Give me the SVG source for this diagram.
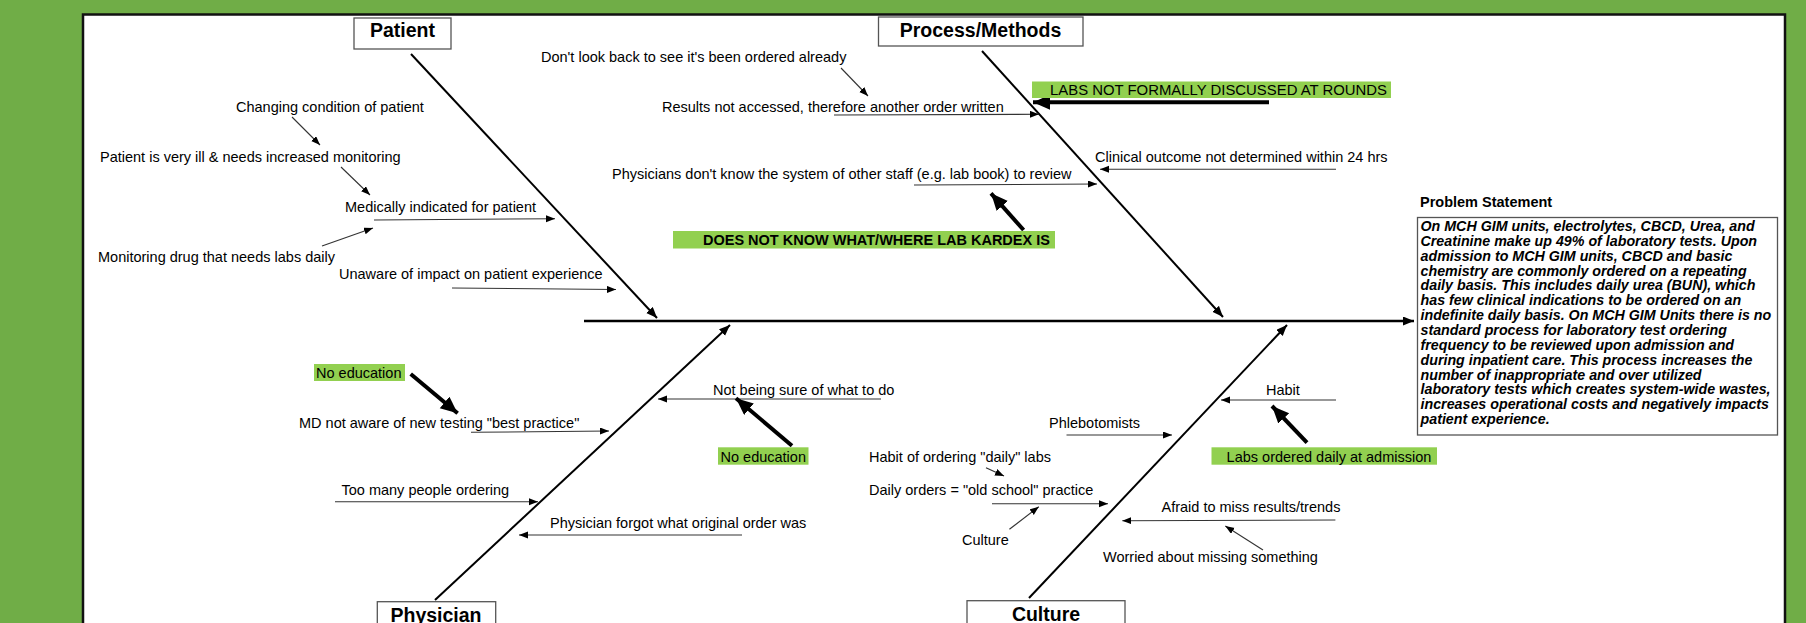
<svg xmlns="http://www.w3.org/2000/svg" width="1806" height="623" viewBox="0 0 1806 623">
<style>
.lbl{font-family:"Liberation Sans",Arial,sans-serif;font-size:14.5px;fill:#000}
.hl{fill:#92D050}
.cat{font-family:"Liberation Sans",Arial,sans-serif;font-size:19.5px;font-weight:bold;fill:#000;text-anchor:middle}
.catbox{fill:#fff;stroke:#555;stroke-width:1.3}
.bold{font-weight:bold}
.ps{font-family:"Liberation Sans",Arial,sans-serif;font-size:14.25px;font-weight:bold;font-style:italic;fill:#000}
.bone{stroke:#000;stroke-width:2;fill:none;marker-end:url(#boneArrow)}
.thin{stroke:#333;stroke-width:1.1;fill:none;marker-end:url(#thinArrow)}
.thick{stroke:#000;stroke-width:4;fill:none;marker-end:url(#thickArrow)}
</style>
<defs>
<marker id="thinArrow" markerUnits="userSpaceOnUse" markerWidth="10" markerHeight="8" refX="9" refY="3.5" orient="auto"><path d="M0,0 L9,3.5 L0,7 z" fill="#000"/></marker>
<marker id="boneArrow" markerUnits="userSpaceOnUse" markerWidth="12" markerHeight="10" refX="11" refY="4.5" orient="auto"><path d="M0,0 L11,4.5 L0,9 z" fill="#000"/></marker>
<marker id="thickArrow" markerUnits="userSpaceOnUse" markerWidth="18" markerHeight="16" refX="17" refY="7.5" orient="auto"><path d="M0,0 L17,7.5 L0,15 z" fill="#000"/></marker>
</defs>
<rect x="0" y="0" width="1806" height="623" fill="#70AD47"/>
<rect x="83" y="14.5" width="1702" height="640" fill="#fff" stroke="#111" stroke-width="2.5"/>

<g id="connectors">
<line class="bone" x1="584" y1="321" x2="1414" y2="321" style="stroke-width:2.5"/>
<line class="bone" x1="411" y1="54" x2="657" y2="318"/>
<line class="bone" x1="982" y1="51" x2="1223" y2="317"/>
<line class="bone" x1="435" y1="600" x2="730" y2="325"/>
<line class="bone" x1="1029" y1="598" x2="1287" y2="325"/>

<line class="thin" x1="292" y1="117" x2="320" y2="145"/>
<line class="thin" x1="341" y1="167" x2="370" y2="195"/>
<line class="thin" x1="374" y1="220" x2="555" y2="218.7"/>
<line class="thin" x1="322" y1="246" x2="373" y2="228"/>
<line class="thin" x1="452" y1="288" x2="616" y2="289.5"/>
<line class="thin" x1="841" y1="68" x2="868" y2="96"/>
<line class="thin" x1="834" y1="115" x2="1039" y2="114.3"/>
<line class="thin" x1="1336" y1="169.3" x2="1100" y2="169.3"/>
<line class="thin" x1="914" y1="185" x2="1097" y2="184"/>
<line class="thin" x1="471" y1="432.3" x2="609" y2="431"/>
<line class="thin" x1="335" y1="501.7" x2="538" y2="501.7"/>
<line class="thin" x1="742" y1="535" x2="519" y2="535"/>
<line class="thin" x1="881" y1="399" x2="658" y2="399"/>
<line class="thin" x1="1066.5" y1="435" x2="1172" y2="435"/>
<line class="thin" x1="986" y1="467.7" x2="1004" y2="476"/>
<line class="thin" x1="992" y1="503.7" x2="1108" y2="503.7"/>
<line class="thin" x1="1009.4" y1="529.3" x2="1038.8" y2="506.7"/>
<line class="thin" x1="1335.4" y1="520" x2="1122.3" y2="520.7"/>
<line class="thin" x1="1263" y1="550" x2="1225.3" y2="526"/>
<line class="thin" x1="1336" y1="400" x2="1221" y2="400"/>

<line class="thick" x1="1269" y1="102.3" x2="1033" y2="102.3"/>
<line class="thick" x1="1023.6" y1="230" x2="991" y2="193.3"/>
<line class="thick" x1="410.7" y1="374" x2="457.6" y2="413.3"/>
<line class="thick" x1="792" y1="445.7" x2="736" y2="398.3"/>
<line class="thick" x1="1307" y1="442.7" x2="1272" y2="406"/>
</g>

<g id="cat-patient">
<rect class="catbox" x="354" y="18" width="97" height="31"/>
<text class="cat" x="402.5" y="37">Patient</text>
</g>
<g id="cat-process">
<rect class="catbox" x="878.5" y="17" width="204.5" height="29"/>
<text class="cat" x="980.5" y="36.5">Process/Methods</text>
</g>
<g id="cat-physician">
<rect class="catbox" x="377.3" y="601.7" width="118.4" height="40"/>
<text class="cat" x="436" y="622">Physician</text>
</g>
<g id="cat-culture">
<rect class="catbox" x="967" y="600.7" width="158" height="40"/>
<text class="cat" x="1046" y="621">Culture</text>
</g>

<g id="patient-causes">
<text class="lbl" x="236" y="111.5">Changing condition of patient</text>
<text class="lbl" x="100" y="161.5">Patient is very ill &amp; needs increased monitoring</text>
<text class="lbl" x="345" y="211.5">Medically indicated for patient</text>
<text class="lbl" x="98" y="261.5">Monitoring drug that needs labs daily</text>
<text class="lbl" x="339" y="278.5">Unaware of impact on patient experience</text>
</g>

<g id="process-causes">
<text class="lbl" x="541" y="61.5">Don't look back to see it's been ordered already</text>
<text class="lbl" x="662" y="111.5">Results not accessed, therefore another order written</text>
<text class="lbl" x="1095" y="161.5">Clinical outcome not determined within 24 hrs</text>
<text class="lbl" x="612" y="178.5">Physicians don't know the system of other staff (e.g. lab book) to review</text>
</g>
<g id="labs-not-discussed">
<rect class="hl" x="1032" y="81.5" width="359" height="16.5"/>
<text class="lbl" x="1050" y="95" style="font-size:14.9px">LABS NOT FORMALLY DISCUSSED AT ROUNDS</text>
</g>
<g id="kardex">
<rect class="hl" x="673" y="231" width="382" height="17.5"/>
<text class="lbl bold" x="703" y="245">DOES NOT KNOW WHAT/WHERE LAB KARDEX IS</text>
</g>

<g id="physician-causes">
<text class="lbl" x="299" y="428.3">MD not aware of new testing "best practice"</text>
<text class="lbl" x="341.5" y="495">Too many people ordering</text>
<text class="lbl" x="550" y="528.3">Physician forgot what original order was</text>
<text class="lbl" x="713" y="395">Not being sure of what to do</text>
</g>
<g id="no-education-1">
<rect class="hl" x="314" y="364" width="91" height="17"/>
<text class="lbl" x="316" y="377.5">No education</text>
</g>
<g id="no-education-2">
<rect class="hl" x="718" y="447.3" width="90.5" height="17.4"/>
<text class="lbl" x="720.5" y="461.7">No education</text>
</g>

<g id="culture-causes">
<text class="lbl" x="1049" y="428.3">Phlebotomists</text>
<text class="lbl" x="869" y="461.7">Habit of ordering "daily" labs</text>
<text class="lbl" x="869" y="495">Daily orders = "old school" practice</text>
<text class="lbl" x="962" y="545">Culture</text>
<text class="lbl" x="1161.5" y="511.7">Afraid to miss results/trends</text>
<text class="lbl" x="1103" y="561.7">Worried about missing something</text>
<text class="lbl" x="1266" y="395">Habit</text>
</g>
<g id="labs-daily-admission">
<rect class="hl" x="1211.5" y="447.3" width="225.5" height="17.4"/>
<text class="lbl" x="1226.6" y="461.7">Labs ordered daily at admission</text>
</g>

<g id="problem-statement">
<text class="lbl bold" x="1420" y="206.5">Problem Statement</text>
<rect x="1417.5" y="217.5" width="360" height="217.5" fill="#fff" stroke="#555" stroke-width="1.3"/>
<text class="ps">
<tspan x="1420.5" y="231">On MCH GIM units, electrolytes, CBCD, Urea, and</tspan>
<tspan x="1420.5" y="245.85">Creatinine make up 49% of laboratory tests. Upon</tspan>
<tspan x="1420.5" y="260.7">admission to MCH GIM units, CBCD and basic</tspan>
<tspan x="1420.5" y="275.55">chemistry are commonly ordered on a repeating</tspan>
<tspan x="1420.5" y="290.4">daily basis. This includes daily urea (BUN), which</tspan>
<tspan x="1420.5" y="305.25">has few clinical indications to be ordered on an</tspan>
<tspan x="1420.5" y="320.1">indefinite daily basis. On MCH GIM Units there is no</tspan>
<tspan x="1420.5" y="334.95">standard process for laboratory test ordering</tspan>
<tspan x="1420.5" y="349.8">frequency to be reviewed upon admission and</tspan>
<tspan x="1420.5" y="364.65">during inpatient care. This process increases the</tspan>
<tspan x="1420.5" y="379.5">number of inappropriate and over utilized</tspan>
<tspan x="1420.5" y="394.35">laboratory tests which creates system-wide wastes,</tspan>
<tspan x="1420.5" y="409.2">increases operational costs and negatively impacts</tspan>
<tspan x="1420.5" y="424.05">patient experience.</tspan>
</text>
</g>
</svg>
